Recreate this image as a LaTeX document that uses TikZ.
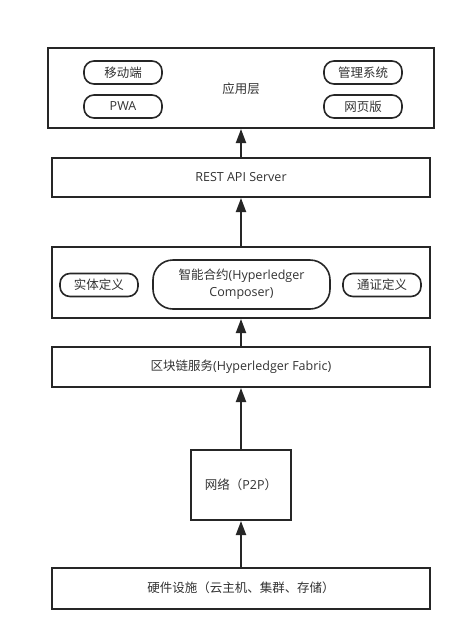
\documentclass[tikz,border=0pt]{standalone}
\usepackage{fontspec}
\setmainfont{Noto Sans CJK SC}
\newfontfamily\latf{Open Sans}
\usetikzlibrary{arrows.meta}
\begin{document}
\begin{tikzpicture}[x=1pt,y=-1pt,
  layer/.style={draw=black!85,line width=2pt,rectangle,minimum height=#1,inner sep=0pt},
  pill/.style={draw=black!85,line width=1.6pt,rounded corners=10pt,minimum width=78pt,minimum height=23pt,inner sep=0pt,font=\fontsize{12.5}{14}\selectfont,text=black!80},
  lbl/.style={font=\fontsize{12.5}{14}\selectfont,text=black!80},
  arr/.style={draw=black!85,line width=2pt,-{Triangle[width=10pt,length=14pt]}}]
\useasboundingbox (0,0) rectangle (466,641);
\fill[white] (0,0) rectangle (466,641);
% app layer
\node[layer=80pt,minimum width=386pt] (app) at (241,88) {};
\node[lbl] (applbl) at (241,89) {应用层};
\node[pill] (mobile) at (123,72.5) {移动端};
\node[pill] (pwa) at (123,106.5) {{\latf PWA}};
\node[pill] (mgmt) at (363,72.5) {管理系统};
\node[pill] (web) at (363,106.5) {网页版};
% REST
\node[layer=39pt,minimum width=378pt,lbl] (rest) at (241,177.5) {{\latf REST API Server}};
% contract layer
\node[layer=71pt,minimum width=378pt] (ct) at (241,282.5) {};
\node[pill] (entity) at (99,285) {实体定义};
\node[pill,minimum width=177pt,minimum height=49pt,rounded corners=20pt,align=center,font=\fontsize{12.5}{17}\selectfont] (smart) at (241.5,284.5) {智能合约{\latf(Hyperledger}\\{\latf Composer)}};
\node[pill] (token) at (382,285) {通证定义};
% blockchain
\node[layer=40pt,minimum width=378pt,lbl] (bc) at (241,367) {区块链服务{\latf(Hyperledger Fabric)}};
% network
\node[layer=70pt,minimum width=100pt,lbl] (net) at (241,485) {网络（{\latf P2P}）};
% hardware
\node[layer=41pt,minimum width=378pt,lbl] (hw) at (241,588) {硬件设施（云主机、集群、存储）};
% arrows
\draw[arr] (rest.north) -- (app.south);
\draw[arr] (ct.north) -- (rest.south);
\draw[arr] (bc.north) -- (ct.south);
\draw[arr] (net.north) -- (bc.south);
\draw[arr] (hw.north) -- (net.south);
\end{tikzpicture}
\end{document}
